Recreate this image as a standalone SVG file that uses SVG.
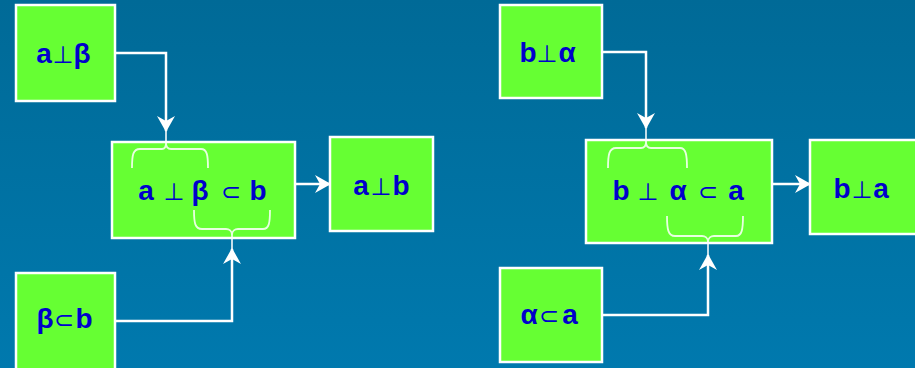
<svg xmlns="http://www.w3.org/2000/svg" width="915" height="368" viewBox="0 0 915 368">
  <defs>
    <linearGradient id="bg" x1="0" y1="0" x2="0" y2="1">
      <stop offset="0" stop-color="#006a97"/>
      <stop offset="1" stop-color="#0079ae"/>
    </linearGradient>
    <marker id="arrow" markerUnits="userSpaceOnUse" markerWidth="16" markerHeight="18" viewBox="0 0 16 18" refX="15" refY="9" orient="auto">
      <path d="M16,9 L0,0 L5,9 L0,18 Z" fill="#ffffff"/>
    </marker>
    <style>
      .box { fill: #66ff33; stroke: #ffffff; stroke-width: 2.5; }
      .lbl { font-family: "Liberation Sans", Arial, sans-serif; font-weight: bold; font-size: 28px; fill: #0000cc; text-anchor: middle; }
      .sym { font-family: "DejaVu Sans", sans-serif; font-weight: normal; font-size: 24px; }
      .conn { fill: none; stroke: #ffffff; stroke-width: 2.5; marker-end: url(#arrow); }
      .brace { fill: none; stroke: #ffffff; stroke-width: 1.8; stroke-opacity: 0.85; }
    </style>
  </defs>

  <rect x="0" y="0" width="915" height="368" fill="url(#bg)"/>

  <!-- left derivation -->
  <g id="node-a-perp-beta">
    <rect class="box" x="16" y="5" width="99" height="96"/>
    <text class="lbl" y="63"><tspan x="44">a</tspan><tspan class="sym" x="63">⊥</tspan><tspan x="82">β</tspan></text>
  </g>
  <g id="node-beta-sub-b">
    <rect class="box" x="16" y="273" width="99" height="97"/>
    <text class="lbl" y="328"><tspan x="45">β</tspan><tspan class="sym" x="64">⊂</tspan><tspan x="84">b</tspan></text>
  </g>
  <g id="node-chain-left">
    <rect class="box" x="112" y="142" width="183" height="96"/>
    <text class="lbl" y="200"><tspan x="146">a</tspan><tspan class="sym" x="174">⊥</tspan><tspan x="200">β</tspan><tspan class="sym" x="231">⊂</tspan><tspan x="258">b</tspan></text>
    <path class="brace" d="M132,168 C132,155 133,149 140,149 L162,149 C165,149 166,147 166,143 L166,131 M166,143 C166,147 168,149 171,149 L201,149 C207,149 208,155 208,168"/>
    <path class="brace" d="M194,210 C194,223 195,229 202,229 L226,229 C229,229 232,231 232,235 L232,250 M232,235 C232,231 235,229 238,229 L263,229 C269,229 270,223 270,210"/>
  </g>
  <g id="node-a-perp-b">
    <rect class="box" x="330" y="137" width="103" height="94"/>
    <text class="lbl" y="195"><tspan x="361">a</tspan><tspan class="sym" x="381">⊥</tspan><tspan x="401">b</tspan></text>
  </g>

  <!-- right derivation -->
  <g id="node-b-perp-alpha">
    <rect class="box" x="500" y="5" width="102" height="93"/>
    <text class="lbl" y="62"><tspan x="528">b</tspan><tspan class="sym" x="547">⊥</tspan><tspan x="567">α</tspan></text>
  </g>
  <g id="node-alpha-sub-a">
    <rect class="box" x="500" y="268" width="102" height="94"/>
    <text class="lbl" y="324"><tspan x="529">α</tspan><tspan class="sym" x="549">⊂</tspan><tspan x="570">a</tspan></text>
  </g>
  <g id="node-chain-right">
    <rect class="box" x="586" y="140" width="186" height="103"/>
    <text class="lbl" y="200"><tspan x="621">b</tspan><tspan class="sym" x="648">⊥</tspan><tspan x="678">α</tspan><tspan class="sym" x="708">⊂</tspan><tspan x="736">a</tspan></text>
    <path class="brace" d="M608,168 C608,155 609,148 616,148 L641,148 C644,148 646,146 646,142 L646,128 M646,142 C646,146 648,148 651,148 L680,148 C686,148 687,155 687,168"/>
    <path class="brace" d="M667,216 C667,229 668,236 675,236 L702,236 C705,236 708,238 708,242 L708,256 M708,242 C708,238 711,236 714,236 L736,236 C742,236 743,229 743,216"/>
  </g>
  <g id="node-b-perp-a">
    <rect class="box" x="810" y="140" width="110" height="94"/>
    <text class="lbl" y="198"><tspan x="842">b</tspan><tspan class="sym" x="862">⊥</tspan><tspan x="881">a</tspan></text>
  </g>

  <!-- connectors -->
  <g id="connectors">
    <path class="conn" d="M115,53 H166 V131"/>
    <path class="conn" d="M115,321 H232 V249"/>
    <path class="conn" d="M295,184 H330"/>
    <path class="conn" d="M602,52 H646 V128"/>
    <path class="conn" d="M602,315 H708 V255"/>
    <path class="conn" d="M772,184 H810"/>
  </g>
</svg>
